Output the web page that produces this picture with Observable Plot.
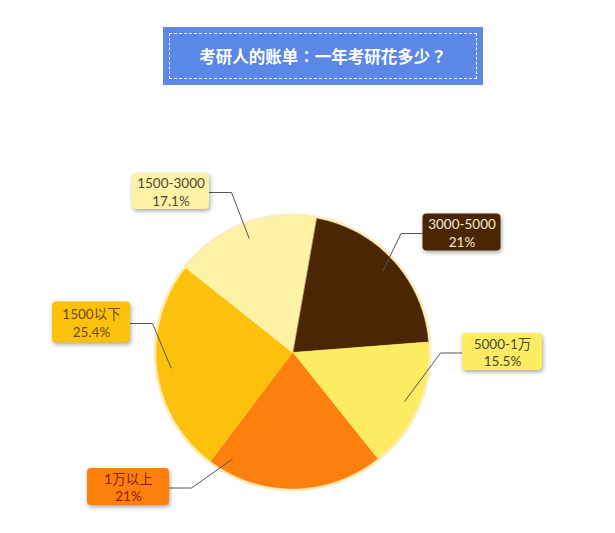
<!DOCTYPE html>
<html>
<head>
<meta charset="utf-8">
<script src="https://cdn.jsdelivr.net/npm/d3@7"></script>
<script src="https://cdn.jsdelivr.net/npm/@observablehq/plot@0.6"></script>
<style>
html, body { margin: 0; padding: 0; background: #fff; }
#title { position: relative; width: 615px; height: 100px; }
#title .box { position: absolute; left: 163px; top: 27px; width: 320px; height: 58px; background: #5b87e6; }
#title .inner { position: absolute; left: 6px; top: 6px; right: 6px; bottom: 6px; border: 1px dashed rgba(255,255,255,0.9);
  display: flex; align-items: center; justify-content: center; color: #fff;
  font: bold 16.5px "Noto Sans CJK TC", sans-serif; }
#chart { width: 615px; height: 433px; }
</style>
</head>
<body>
<div id="title"><div class="box"><div class="inner">考研人的账单：一年考研花多少？</div></div></div>
<div id="chart"></div>
<script>
// ---- data ----
const categories = ["3000-5000", "5000-1万", "1万以上", "1500以下", "1500-3000"];
const shares = [21, 15.5, 21, 25.4, 17.1];
const shareLabels = ["21%", "15.5%", "21%", "25.4%", "17.1%"];
const sliceColors = ["#4b2604", "#fdec62", "#fd7f0d", "#fcc10d", "#fdf2a6"];
const labelTextColors = ["#f7ead6", "#4a4738", "#8e1d00", "#6b4a0c", "#4a4738"];

// ---- layout ----
const W = 615, H = 433, R = 136, CX = 292, CY = 252;
const START = 10 * Math.PI / 180;
// label box centre offset from pie centre (px), box size (px), anchor position within slice
const labelLayout = [
  {dx: 169.5, dy: -120, w: 78, h: 37, f: 0.5},
  {dx: 210, dy: -0.5, w: 80, h: 37, f: 0.5},
  {dx: -164, dy: 134.5, w: 82, h: 37, f: 0.9},
  {dx: -201, dy: -30, w: 78, h: 41, f: 0.5},
  {dx: -121.5, dy: -161, w: 77, h: 36, f: 0.5}
];

const rows = categories.map((cat, i) => ({cat, share: shares[i], pct: shareLabels[i], color: sliceColors[i], textColor: labelTextColors[i]}));
const arcs = d3.pie().sort(null).value(d => d.share).startAngle(START).endAngle(START + 2 * Math.PI)(rows);

const slicePts = arcs.flatMap(a => {
  const {cat, color} = a.data;
  const pts = [{cat, color, x: 0, y: 0}];
  const n = Math.ceil((a.endAngle - a.startAngle) / (Math.PI / 360));
  for (let i = 0; i <= n; i++) {
    const t = a.startAngle + (a.endAngle - a.startAngle) * i / n;
    pts.push({cat, color, x: Math.sin(t), y: Math.cos(t)});
  }
  return pts;
});

const leaderPts = arcs.flatMap((a, i) => {
  const L = labelLayout[i];
  const cat = a.data.cat;
  const t = a.startAngle + (a.endAngle - a.startAngle) * L.f;
  const side = L.dx > 0 ? -1 : 1;
  const ex = (L.dx + side * L.w / 2) / R, ey = -(L.dy + 1) / R;
  const bx = ex + side * 22 / R;
  return [
    {cat, x: 0.9 * Math.sin(t), y: 0.9 * Math.cos(t)},
    {cat, x: bx, y: ey},
    {cat, x: ex, y: ey}
  ];
});

const boxes = rows.map((d, i) => {
  const L = labelLayout[i];
  return {...d, x1: (L.dx - L.w / 2) / R, x2: (L.dx + L.w / 2) / R, y1: -(L.dy - L.h / 2) / R, y2: -(L.dy + L.h / 2) / R, x: L.dx / R, y: -L.dy / R};
});

const chart = Plot.plot({
  width: W, height: H, margin: 0,
  x: {domain: [-CX / R, (W - CX) / R], range: [0, W], axis: null},
  y: {domain: [-(H - CY) / R, CY / R], range: [H, 0], axis: null},
  color: {type: "identity"},
  style: {fontFamily: 'Lato, "Noto Sans CJK SC", sans-serif', background: "white"},
  marks: [
    Plot.dot([{x: 0, y: 0}], {x: "x", y: "y", r: R + 1.5, stroke: "#f9e9a8", strokeWidth: 3, strokeOpacity: 0.8}),
    Plot.line(slicePts, {x: "x", y: "y", z: "cat", fill: "color", stroke: "color", strokeWidth: 0.6, curve: "linear-closed"}),
    Plot.line(leaderPts, {x: "x", y: "y", z: "cat", stroke: "#555", strokeWidth: 1}),
    Plot.rect(boxes, {x1: "x1", x2: "x2", y1: "y1", y2: "y2", fill: "color", rx: 4, imageFilter: "drop-shadow(1px 2px 2px rgba(0,0,0,0.35))"}),
    ...boxes.map(d => Plot.text([d], {x: "x", y: "y", text: b => b.cat + "\n" + b.pct, fill: d.textColor, fontSize: 13.5, lineHeight: 1.3}))
  ]
});
document.getElementById("chart").appendChild(chart);
</script>
</body>
</html>
